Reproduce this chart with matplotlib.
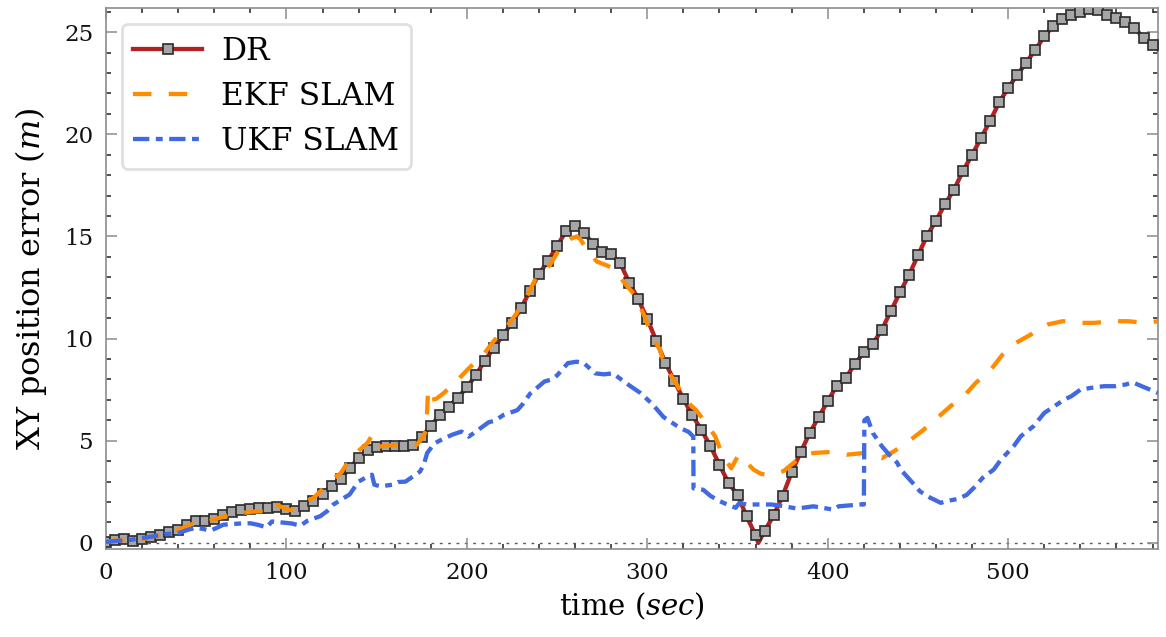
import numpy as np
import matplotlib
matplotlib.use("Agg")
import matplotlib.pyplot as plt
from matplotlib.ticker import MultipleLocator, AutoMinorLocator

# ---- data -------------------------------------------------------------
dr_time = [0, 5, 10, 15, 20, 25, 30, 35, 40, 45, 50, 55, 60, 65, 70, 75, 80,
           85, 90, 95, 100, 105, 110, 115, 120, 125, 130, 135, 140, 145, 150,
           155, 160, 165, 170, 175, 180, 185, 190, 195, 200, 205, 210, 215,
           220, 225, 230, 235, 240, 245, 250, 255, 260, 265, 270, 275, 280,
           285, 290, 295, 300, 305, 310, 315, 320, 325, 330, 335, 340, 345,
           350, 355, 360, 361.5, 365, 370, 375, 380, 385, 390, 395, 400, 405,
           410, 415, 420, 425, 430, 435, 440, 445, 450, 455, 460, 465, 470,
           475, 480, 485, 490, 495, 500, 505, 510, 515, 520, 525, 530, 535,
           540, 545, 550, 555, 560, 565, 570, 575, 580, 583]
dr_error = [0.03, 0.12, 0.17, 0.10, 0.17, 0.27, 0.38, 0.51, 0.63, 0.87, 1.08,
            1.05, 1.17, 1.36, 1.52, 1.61, 1.66, 1.72, 1.72, 1.74, 1.66, 1.56,
            1.82, 2.06, 2.37, 2.80, 3.12, 3.65, 4.17, 4.53, 4.71, 4.76, 4.74,
            4.76, 4.79, 5.20, 5.72, 6.27, 6.67, 7.11, 7.61, 8.22, 8.92, 9.56,
            10.16, 10.78, 11.48, 12.35, 13.16, 13.80, 14.53, 15.27, 15.51,
            15.19, 14.62, 14.24, 14.13, 13.69, 12.74, 11.92, 10.96, 9.88,
            8.82, 7.92, 7.04, 6.25, 5.52, 4.74, 3.82, 2.94, 2.34, 1.31, 0.37,
            0.0, 0.58, 1.35, 2.31, 3.45, 4.44, 5.38, 6.16, 6.93, 7.70, 8.08,
            8.75, 9.33, 9.74, 10.44, 11.35, 12.26, 13.11, 14.07, 15.03, 15.77,
            16.59, 17.29, 18.22, 18.99, 19.83, 20.66, 21.56, 22.27, 22.90,
            23.51, 24.13, 24.79, 25.31, 25.63, 25.84, 25.98, 26.15, 26.08,
            25.84, 25.68, 25.49, 25.21, 24.72, 24.35, 24.15]

ekf_time = [0, 5, 10, 20, 27, 37, 45, 50, 53, 57, 61, 66, 71, 75, 80, 85, 88,
            91, 95, 100, 103, 110, 115, 119, 126, 130, 133, 140, 145, 147, 149,
            152, 160, 172, 175, 177.5, 178.5, 180, 183, 187, 194, 201, 209,
            214.5, 222, 227.5, 234, 238.6, 246, 251.6, 258, 261, 263, 266,
            272, 277, 281, 287.6, 293, 298.6, 302, 307, 310, 316, 322, 327,
            332, 337.7, 341.4, 346.5, 350.5, 352, 359, 363, 367, 371, 375.6,
            383, 387, 392, 401.5, 410.8, 420, 425, 430, 437, 445, 453.3,
            460.7, 468, 475.5, 482, 490.4, 496.9, 504.3, 512.6, 517, 521.9,
            530.2, 540.4, 547.8, 558, 566.3, 576.5, 583]
ekf_error = [0.05, 0.12, 0.12, 0.17, 0.33, 0.54, 0.82, 1.0, 0.95, 1.05, 1.18,
             1.30, 1.47, 1.45, 1.52, 1.55, 1.55, 1.90, 1.85, 1.65, 1.60, 2.0,
             2.2, 2.54, 3.16, 3.40, 3.81, 4.51, 4.90, 5.20, 4.63, 4.72, 4.79,
             4.79, 5.10, 5.50, 7.48, 7.0, 7.05, 7.32, 7.89, 8.54, 9.19, 9.84,
             10.57, 11.23, 12.20, 13.03, 13.60, 14.42, 14.91, 15.0, 14.85,
             14.42, 13.77, 13.60, 13.44, 12.70, 12.13, 11.07, 10.26, 9.44,
             8.60, 7.80, 6.91, 6.50, 5.93, 5.20, 4.35, 3.65, 4.30, 4.20, 3.58,
             3.38, 3.32, 3.40, 3.52, 4.06, 4.30, 4.40, 4.45, 4.32, 4.40, 4.30,
             4.15, 4.50, 4.98, 5.55, 6.12, 6.69, 7.18, 7.83, 8.48, 9.22, 9.79,
             10.20, 10.50, 10.69, 10.85, 10.77, 10.77, 10.85, 10.85, 10.77,
             10.85]

ukf_time = [0, 6, 13.5, 21, 27, 33, 41, 44, 49.5, 54, 57.8, 61, 65, 76, 80,
            84, 89, 92, 97.5, 103, 107.7, 111.4, 118.8, 122.5, 126, 135, 140,
            144, 147.4, 148.7, 152, 159, 162, 166, 174, 176, 178, 182, 187,
            192, 197, 201, 205, 212, 216, 220, 228, 231, 235, 243, 247, 250,
            256, 261, 265, 271, 276, 281, 287, 291, 296, 302, 305, 309, 316,
            319, 323, 325.5, 325.6, 331, 335, 340, 345, 349, 351, 355, 369,
            376, 383, 392, 397, 403, 406, 418, 420, 420.3, 422, 425, 430, 434,
            438.5, 440.4, 449.6, 451, 457, 459, 462.6, 466, 472, 477, 481,
            486, 492, 496, 503, 507, 514, 520, 531, 535, 540, 546, 553, 559,
            565, 569, 574, 583]
ukf_error = [0.05, 0.10, 0.15, 0.25, 0.33, 0.43, 0.50, 0.60, 0.75, 0.68, 0.60,
             0.72, 0.89, 0.96, 0.96, 0.89, 0.76, 1.05, 1.0, 0.95, 0.84, 1.07,
             1.31, 1.55, 1.88, 2.37, 3.0, 3.2, 3.34, 2.85, 2.77, 2.85, 2.98,
             3.0, 3.49, 3.8, 4.4, 4.87, 5.1, 5.3, 5.45, 5.2, 5.45, 5.9, 6.0,
             6.25, 6.5, 6.8, 7.3, 7.9, 8.0, 8.2, 8.8, 8.87, 8.79, 8.3, 8.25,
             8.3, 7.9, 7.65, 7.35, 6.86, 6.57, 6.16, 5.75, 5.59, 5.43, 5.2,
             2.67, 2.6, 2.3, 2.05, 1.85, 1.72, 1.95, 1.88, 1.88, 1.79, 1.68,
             1.79, 1.72, 1.63, 1.79, 1.88, 1.88, 6.0, 6.12, 5.38, 4.73, 4.32,
             3.92, 3.59, 2.69, 2.53, 2.2, 2.12, 1.96, 2.05, 2.15, 2.35, 2.7,
             3.2, 3.59, 4.08, 4.73, 5.22, 5.71, 6.36, 7.01, 7.18, 7.5, 7.59,
             7.67, 7.67, 7.75, 7.86, 7.67, 7.34]

x_limits = (0, 583)
y_limits = (-0.3, 26.18)

# ---- style ------------------------------------------------------------
plt.rcParams["font.family"] = ["DejaVu Serif"]
plt.rcParams["mathtext.fontset"] = "dejavuserif"

fig = plt.figure(figsize=(11.66, 6.37), dpi=100)
ax = fig.add_axes([0.0909, 0.1381, 0.9022, 0.8493])

dr_t = np.asarray(dr_time, dtype=float)
marker_idx = [i for i, t in enumerate(dr_t) if float(t) % 5 == 0]

ax.axhline(0, color="0.35", lw=1.0, ls=(0, (2, 4)), zorder=1)

ax.plot(dr_t, dr_error, color="#b22222", lw=3.1, marker="s", markersize=6.7,
        markerfacecolor="#a6a6a6", markeredgecolor="#2b2b2b",
        markeredgewidth=1.2, markevery=marker_idx, label="DR", zorder=3)
ax.plot(ekf_time, ekf_error, color="#ff8c00", lw=3.1,
        ls=(0, (4.3, 4.0)), label="EKF SLAM", zorder=4)
ax.plot(ukf_time, ukf_error, color="#4169e1", lw=3.1,
        ls=(0, (3.8, 1.5, 1.6, 1.5)), label="UKF SLAM", zorder=5)

ax.set_xlim(*x_limits)
ax.set_ylim(*y_limits)

ax.xaxis.set_major_locator(MultipleLocator(100))
ax.xaxis.set_minor_locator(AutoMinorLocator(5))
ax.yaxis.set_major_locator(MultipleLocator(5))
ax.yaxis.set_minor_locator(AutoMinorLocator(5))

ax.tick_params(which="both", direction="in", top=True, right=True)
ax.tick_params(which="major", length=8, width=1.1, color="0.55",
               labelsize=16.5, pad=9, labelcolor="#111111")
ax.tick_params(which="minor", length=3.6, width=1.1, color="#222222")
for sp in ax.spines.values():
    sp.set_color("0.55")
    sp.set_linewidth(1.2)

ax.set_xlabel("time ($sec$)", fontsize=21, labelpad=5)
ax.set_ylabel("XY position error ($m$)", fontsize=23, labelpad=11)

leg = ax.legend(loc="upper left", fontsize=22.5, handlelength=2.2,
                handletextpad=0.6, borderaxespad=0.5, labelspacing=0.45,
                borderpad=0.38, fancybox=True, framealpha=1.0)
leg.get_frame().set_edgecolor("0.88")
leg.get_frame().set_linewidth(2.0)

fig.savefig("out.png", dpi=100)
